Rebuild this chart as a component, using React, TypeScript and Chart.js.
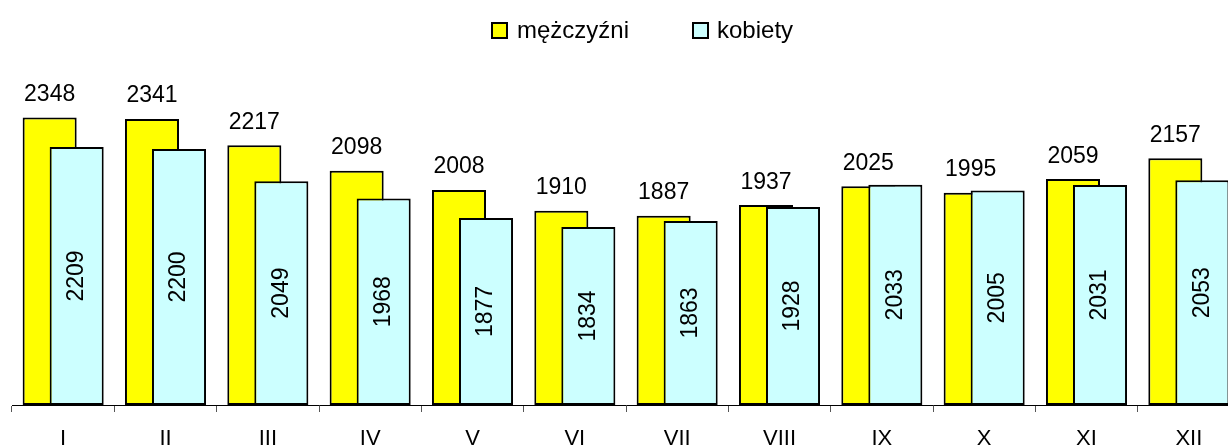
import React, { useEffect, useRef } from "react";
import { Chart, registerables } from "chart.js";

Chart.register(...registerables);

const months = ["I", "II", "III", "IV", "V", "VI", "VII", "VIII", "IX", "X", "XI", "XII"];
const menValues = [2348, 2341, 2217, 2098, 2008, 1910, 1887, 1937, 2025, 1995, 2059, 2157];
const womenValues = [2209, 2200, 2049, 1968, 1877, 1834, 1863, 1928, 2033, 2005, 2031, 2053];
const seriesNames = ["mężczyźni", "kobiety"];
const seriesColors = ["#FFFF00", "#CCFFFF"];
const axisMin = 1000;
const axisMax = 2500;

const FONT = '"Liberation Sans", Arial, sans-serif';

const drawOrderPlugin = {
  id: "drawOrder",
  beforeDatasetsDraw(chart: any) {
    const ctx = chart.ctx;
    const a = chart.chartArea;
    ctx.save();
    ctx.beginPath();
    ctx.rect(0, 0, chart.width, a.bottom + 1);
    ctx.clip();
    for (let i = 0; i < chart.data.datasets.length; i++) {
      const meta = chart.getDatasetMeta(i);
      if (!meta.hidden) meta.controller.draw();
    }
    ctx.restore();
    return false;
  },
};

const labelsPlugin = {
  id: "valueLabels",
  afterDraw(chart: any) {
    const ctx = chart.ctx;
    ctx.save();
    ctx.fillStyle = "#000";
    ctx.font = `23px ${FONT}`;
    const m0 = chart.getDatasetMeta(0);
    m0.data.forEach((bar: any, i: number) => {
      ctx.textAlign = "center";
      ctx.textBaseline = "alphabetic";
      ctx.fillText(String(menValues[i]), bar.x, bar.y - 16.5);
    });
    const m1 = chart.getDatasetMeta(1);
    m1.data.forEach((bar: any, i: number) => {
      ctx.save();
      ctx.translate(bar.x, (bar.y + bar.base) / 2);
      ctx.rotate(-Math.PI / 2);
      ctx.textAlign = "center";
      ctx.textBaseline = "middle";
      ctx.fillText(String(womenValues[i]), 0, 0);
      ctx.restore();
    });
    // legend
    const items = [
      { box: 491, text: 517 },
      { box: 692, text: 717 },
    ];
    ctx.font = `24px ${FONT}`;
    ctx.textAlign = "left";
    ctx.textBaseline = "alphabetic";
    items.forEach((it, i) => {
      ctx.fillStyle = seriesColors[i];
      ctx.fillRect(it.box, 22, 17, 17);
      ctx.strokeStyle = "#000";
      ctx.lineWidth = 2;
      ctx.strokeRect(it.box + 1, 23, 15, 15);
      ctx.fillStyle = "#000";
      ctx.fillText(seriesNames[i], it.text, 38);
    });
    ctx.restore();
  },
};

export default function App() {
  const ref = useRef<HTMLCanvasElement>(null);
  useEffect(() => {
    if (!ref.current) return;
    const chart = new Chart(ref.current, {
      type: "bar",
      data: {
        labels: months,
        datasets: [
          {
            label: seriesNames[0],
            data: menValues,
            base: axisMin,
            backgroundColor: seriesColors[0],
            borderColor: "#000",
            borderWidth: 2,
            borderSkipped: false,
            categoryPercentage: 0.528,
            barPercentage: 2,
          },
          {
            label: seriesNames[1],
            data: womenValues,
            base: axisMin,
            backgroundColor: seriesColors[1],
            borderColor: "#000",
            borderWidth: 2,
            borderSkipped: false,
            categoryPercentage: 0.528,
            barPercentage: 2,
          },
        ],
      },
      options: {
        animation: false,
        responsive: false,
        devicePixelRatio: 1,
        layout: { padding: { left: 12, top: 85, right: 0, bottom: 0 } },
        plugins: { legend: { display: false }, tooltip: { enabled: false } },
        scales: {
          x: {
            type: "category",
            offset: true,
            grid: { offset: true, drawOnChartArea: false, tickLength: 7, color: "#555", lineWidth: 1 },
            border: { color: "#000", width: 1 },
            ticks: { color: "#000", font: { size: 22, family: FONT }, padding: 14, maxRotation: 0, autoSkip: false },
            afterFit: (s: any) => {
              s.height = 55;
            },
          },
          y: { display: false, min: axisMin, max: axisMax },
        },
      },
      plugins: [drawOrderPlugin, labelsPlugin],
    });
    return () => chart.destroy();
  }, []);
  return (
    <div style={{ position: "absolute", left: 0, top: 0, width: 1228, height: 448, overflow: "hidden", background: "#fff" }}>
      <canvas ref={ref} width={1240} height={460} />
    </div>
  );
}
